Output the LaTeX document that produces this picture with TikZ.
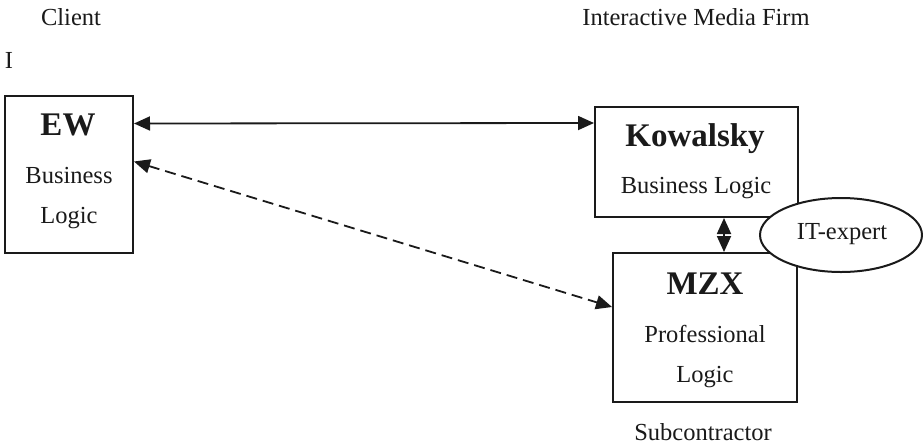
\documentclass[tikz,border=0pt]{standalone}
\usepackage{fontspec}
\setmainfont{Liberation Serif}
\usetikzlibrary{arrows.meta,shapes.geometric}
\definecolor{ink}{HTML}{1A1A1A}
\tikzset{
  boxnode/.style={draw=ink,line width=2pt,rectangle,inner sep=0pt},
  txt/.style={font=\fontsize{24.5}{28}\selectfont,text=ink,inner sep=0pt,anchor=center},
  bold/.style={font=\fontsize{33}{38}\selectfont\bfseries,text=ink,inner sep=0pt,anchor=center},
  arr/.style={draw=ink,line width=1.8pt,{Triangle[length=16pt,width=14pt]}-{Triangle[length=16pt,width=14pt]}},
  darr/.style={arr,dash pattern=on 11pt off 6pt},
  expert/.style={draw=ink,line width=2pt,ellipse,fill=white,minimum width=162pt,minimum height=74pt,inner sep=0pt}
}
\begin{document}
\begin{tikzpicture}[x=1pt,y=-1pt]
\useasboundingbox (0,0) rectangle (923,445);
\fill[white] (0,0) rectangle (923,445);
% headings
\node[txt] (client) at (71,17) {Client};
\node[txt] (firm) at (696,17) {Interactive Media Firm};
\node[txt] (mark) at (9,60) {I};
% boxes
\node[boxnode,minimum width=128pt,minimum height=157pt] (ew) at (69,174) {};
\node[boxnode,minimum width=203pt,minimum height=110pt] (kw) at (696.5,162) {};
\node[boxnode,minimum width=184pt,minimum height=149pt] (mzx) at (705,327.5) {};
% box texts
\node[bold] (ewt) at (68,125) {EW};
\node[txt] (ewb) at (69,176) {Business};
\node[txt] (ewl) at (69,218) {Logic};
\node[bold] (kwt) at (695,139) {Kowalsky};
\node[txt] (kwb) at (696,188) {Business Logic};
\node[bold] (mzxt) at (705,284) {MZX};
\node[txt] (mzxp) at (705,334) {Professional};
\node[txt] (mzxl) at (705,377) {Logic};
\node[txt] (sub) at (703,432) {Subcontractor};
% connectors
\draw[arr] ([yshift=-29pt]ew.north east) -- ([yshift=-17pt]kw.north west);
\draw[darr] ([yshift=-67pt]ew.north east) -- ([yshift=-55pt]mzx.north west);
\draw[arr] ([xshift=27.5pt]kw.south) -- ([xshift=19pt]mzx.north);
% ellipse
\node[expert] (it) at (841,235) {};
\node[txt] (itt) at (842,234) {IT-expert};
\end{tikzpicture}
\end{document}
